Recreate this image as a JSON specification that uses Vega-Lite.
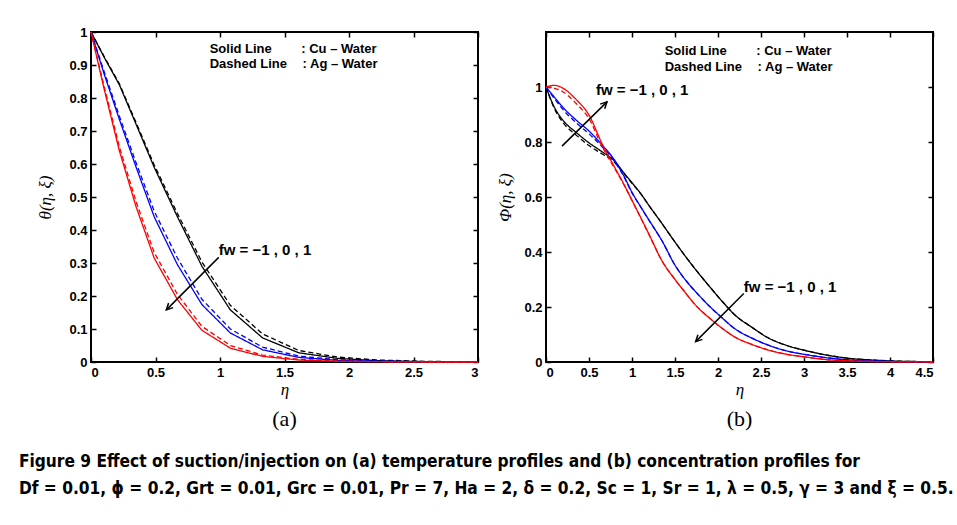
{
"$schema": "https://vega.github.io/schema/vega-lite/v6.json",
"background": "white",
"padding": {"left": 18, "top": 25, "right": 10, "bottom": 10},
"config": {
  "view": {"stroke": "#000", "strokeWidth": 2},
  "axis": {"grid": false, "domain": false, "tickColor": "#000", "tickWidth": 1.5, "tickSize": -5, "labelPadding": 9,
           "labelFont": "Liberation Sans", "labelFontWeight": "bold", "labelFontSize": 13, "labelColor": "#000",
           "titleFont": "Liberation Serif", "titleFontStyle": "italic", "titleFontWeight": "normal", "titleFontSize": 17, "titleColor": "#000", "format": "~g"}
},
"datasets": {
  "theta": [
    {"eta":0,"value":1,"fw":"-1","fluid":"Cu"},{"eta":0.1,"value":0.925,"fw":"-1","fluid":"Cu"},{"eta":0.22,"value":0.84,"fw":"-1","fluid":"Cu"},{"eta":0.35,"value":0.72,"fw":"-1","fluid":"Cu"},{"eta":0.49,"value":0.59,"fw":"-1","fluid":"Cu"},{"eta":0.67,"value":0.44,"fw":"-1","fluid":"Cu"},{"eta":0.86,"value":0.29,"fw":"-1","fluid":"Cu"},{"eta":1.08,"value":0.158,"fw":"-1","fluid":"Cu"},{"eta":1.33,"value":0.073,"fw":"-1","fluid":"Cu"},{"eta":1.61,"value":0.028,"fw":"-1","fluid":"Cu"},{"eta":1.91,"value":0.011,"fw":"-1","fluid":"Cu"},{"eta":2.22,"value":0.004,"fw":"-1","fluid":"Cu"},{"eta":2.6,"value":0.001,"fw":"-1","fluid":"Cu"},{"eta":3,"value":0,"fw":"-1","fluid":"Cu"},
    {"eta":0,"value":1,"fw":"-1","fluid":"Ag"},{"eta":0.1,"value":0.927,"fw":"-1","fluid":"Ag"},{"eta":0.22,"value":0.843,"fw":"-1","fluid":"Ag"},{"eta":0.35,"value":0.725,"fw":"-1","fluid":"Ag"},{"eta":0.49,"value":0.597,"fw":"-1","fluid":"Ag"},{"eta":0.67,"value":0.45,"fw":"-1","fluid":"Ag"},{"eta":0.86,"value":0.303,"fw":"-1","fluid":"Ag"},{"eta":1.08,"value":0.172,"fw":"-1","fluid":"Ag"},{"eta":1.33,"value":0.085,"fw":"-1","fluid":"Ag"},{"eta":1.61,"value":0.035,"fw":"-1","fluid":"Ag"},{"eta":1.91,"value":0.015,"fw":"-1","fluid":"Ag"},{"eta":2.22,"value":0.006,"fw":"-1","fluid":"Ag"},{"eta":2.6,"value":0.002,"fw":"-1","fluid":"Ag"},{"eta":3,"value":0,"fw":"-1","fluid":"Ag"},
    {"eta":0,"value":1,"fw":"0","fluid":"Cu"},{"eta":0.1,"value":0.875,"fw":"0","fluid":"Cu"},{"eta":0.22,"value":0.735,"fw":"0","fluid":"Cu"},{"eta":0.35,"value":0.59,"fw":"0","fluid":"Cu"},{"eta":0.49,"value":0.44,"fw":"0","fluid":"Cu"},{"eta":0.67,"value":0.295,"fw":"0","fluid":"Cu"},{"eta":0.86,"value":0.174,"fw":"0","fluid":"Cu"},{"eta":1.08,"value":0.088,"fw":"0","fluid":"Cu"},{"eta":1.33,"value":0.037,"fw":"0","fluid":"Cu"},{"eta":1.61,"value":0.014,"fw":"0","fluid":"Cu"},{"eta":1.91,"value":0.005,"fw":"0","fluid":"Cu"},{"eta":2.22,"value":0.002,"fw":"0","fluid":"Cu"},{"eta":2.6,"value":0.0005,"fw":"0","fluid":"Cu"},{"eta":3,"value":0,"fw":"0","fluid":"Cu"},
    {"eta":0,"value":1,"fw":"0","fluid":"Ag"},{"eta":0.1,"value":0.882,"fw":"0","fluid":"Ag"},{"eta":0.22,"value":0.745,"fw":"0","fluid":"Ag"},{"eta":0.35,"value":0.603,"fw":"0","fluid":"Ag"},{"eta":0.49,"value":0.457,"fw":"0","fluid":"Ag"},{"eta":0.67,"value":0.315,"fw":"0","fluid":"Ag"},{"eta":0.86,"value":0.19,"fw":"0","fluid":"Ag"},{"eta":1.08,"value":0.1,"fw":"0","fluid":"Ag"},{"eta":1.33,"value":0.045,"fw":"0","fluid":"Ag"},{"eta":1.61,"value":0.018,"fw":"0","fluid":"Ag"},{"eta":1.91,"value":0.007,"fw":"0","fluid":"Ag"},{"eta":2.22,"value":0.003,"fw":"0","fluid":"Ag"},{"eta":2.6,"value":0.001,"fw":"0","fluid":"Ag"},{"eta":3,"value":0,"fw":"0","fluid":"Ag"},
    {"eta":0,"value":1,"fw":"1","fluid":"Cu"},{"eta":0.1,"value":0.83,"fw":"1","fluid":"Cu"},{"eta":0.22,"value":0.64,"fw":"1","fluid":"Cu"},{"eta":0.35,"value":0.47,"fw":"1","fluid":"Cu"},{"eta":0.49,"value":0.315,"fw":"1","fluid":"Cu"},{"eta":0.67,"value":0.189,"fw":"1","fluid":"Cu"},{"eta":0.86,"value":0.096,"fw":"1","fluid":"Cu"},{"eta":1.08,"value":0.042,"fw":"1","fluid":"Cu"},{"eta":1.33,"value":0.017,"fw":"1","fluid":"Cu"},{"eta":1.61,"value":0.006,"fw":"1","fluid":"Cu"},{"eta":1.91,"value":0.002,"fw":"1","fluid":"Cu"},{"eta":2.22,"value":0.001,"fw":"1","fluid":"Cu"},{"eta":2.6,"value":0,"fw":"1","fluid":"Cu"},{"eta":3,"value":0,"fw":"1","fluid":"Cu"},
    {"eta":0,"value":1,"fw":"1","fluid":"Ag"},{"eta":0.1,"value":0.838,"fw":"1","fluid":"Ag"},{"eta":0.22,"value":0.652,"fw":"1","fluid":"Ag"},{"eta":0.35,"value":0.485,"fw":"1","fluid":"Ag"},{"eta":0.49,"value":0.332,"fw":"1","fluid":"Ag"},{"eta":0.67,"value":0.205,"fw":"1","fluid":"Ag"},{"eta":0.86,"value":0.108,"fw":"1","fluid":"Ag"},{"eta":1.08,"value":0.05,"fw":"1","fluid":"Ag"},{"eta":1.33,"value":0.021,"fw":"1","fluid":"Ag"},{"eta":1.61,"value":0.008,"fw":"1","fluid":"Ag"},{"eta":1.91,"value":0.003,"fw":"1","fluid":"Ag"},{"eta":2.22,"value":0.001,"fw":"1","fluid":"Ag"},{"eta":2.6,"value":0,"fw":"1","fluid":"Ag"},{"eta":3,"value":0,"fw":"1","fluid":"Ag"}
  ],
  "phi": [
    {"eta":0,"value":1,"fw":"-1","fluid":"Cu"},{"eta":0.1,"value":0.925,"fw":"-1","fluid":"Cu"},{"eta":0.2,"value":0.878,"fw":"-1","fluid":"Cu"},{"eta":0.35,"value":0.835,"fw":"-1","fluid":"Cu"},{"eta":0.5,"value":0.797,"fw":"-1","fluid":"Cu"},{"eta":0.65,"value":0.765,"fw":"-1","fluid":"Cu"},{"eta":0.8,"value":0.73,"fw":"-1","fluid":"Cu"},{"eta":0.9,"value":0.69,"fw":"-1","fluid":"Cu"},{"eta":1.0,"value":0.652,"fw":"-1","fluid":"Cu"},{"eta":1.1,"value":0.613,"fw":"-1","fluid":"Cu"},{"eta":1.2,"value":0.568,"fw":"-1","fluid":"Cu"},{"eta":1.35,"value":0.503,"fw":"-1","fluid":"Cu"},{"eta":1.5,"value":0.436,"fw":"-1","fluid":"Cu"},{"eta":1.6,"value":0.393,"fw":"-1","fluid":"Cu"},{"eta":1.75,"value":0.332,"fw":"-1","fluid":"Cu"},{"eta":1.9,"value":0.275,"fw":"-1","fluid":"Cu"},{"eta":2.05,"value":0.22,"fw":"-1","fluid":"Cu"},{"eta":2.2,"value":0.17,"fw":"-1","fluid":"Cu"},{"eta":2.4,"value":0.125,"fw":"-1","fluid":"Cu"},{"eta":2.57,"value":0.09,"fw":"-1","fluid":"Cu"},{"eta":2.8,"value":0.06,"fw":"-1","fluid":"Cu"},{"eta":3.0,"value":0.043,"fw":"-1","fluid":"Cu"},{"eta":3.25,"value":0.026,"fw":"-1","fluid":"Cu"},{"eta":3.5,"value":0.014,"fw":"-1","fluid":"Cu"},{"eta":3.75,"value":0.008,"fw":"-1","fluid":"Cu"},{"eta":4.0,"value":0.004,"fw":"-1","fluid":"Cu"},{"eta":4.5,"value":0.001,"fw":"-1","fluid":"Cu"},
    {"eta":0,"value":1,"fw":"-1","fluid":"Ag"},{"eta":0.1,"value":0.92,"fw":"-1","fluid":"Ag"},{"eta":0.2,"value":0.87,"fw":"-1","fluid":"Ag"},{"eta":0.35,"value":0.825,"fw":"-1","fluid":"Ag"},{"eta":0.5,"value":0.787,"fw":"-1","fluid":"Ag"},{"eta":0.65,"value":0.757,"fw":"-1","fluid":"Ag"},{"eta":0.8,"value":0.725,"fw":"-1","fluid":"Ag"},{"eta":0.9,"value":0.687,"fw":"-1","fluid":"Ag"},{"eta":1.0,"value":0.65,"fw":"-1","fluid":"Ag"},{"eta":1.1,"value":0.612,"fw":"-1","fluid":"Ag"},{"eta":1.2,"value":0.568,"fw":"-1","fluid":"Ag"},{"eta":1.35,"value":0.503,"fw":"-1","fluid":"Ag"},{"eta":1.5,"value":0.436,"fw":"-1","fluid":"Ag"},{"eta":1.6,"value":0.393,"fw":"-1","fluid":"Ag"},{"eta":1.75,"value":0.332,"fw":"-1","fluid":"Ag"},{"eta":1.9,"value":0.275,"fw":"-1","fluid":"Ag"},{"eta":2.05,"value":0.22,"fw":"-1","fluid":"Ag"},{"eta":2.2,"value":0.17,"fw":"-1","fluid":"Ag"},{"eta":2.4,"value":0.125,"fw":"-1","fluid":"Ag"},{"eta":2.57,"value":0.09,"fw":"-1","fluid":"Ag"},{"eta":2.8,"value":0.06,"fw":"-1","fluid":"Ag"},{"eta":3.0,"value":0.043,"fw":"-1","fluid":"Ag"},{"eta":3.25,"value":0.026,"fw":"-1","fluid":"Ag"},{"eta":3.5,"value":0.014,"fw":"-1","fluid":"Ag"},{"eta":3.75,"value":0.008,"fw":"-1","fluid":"Ag"},{"eta":4.0,"value":0.004,"fw":"-1","fluid":"Ag"},{"eta":4.5,"value":0.001,"fw":"-1","fluid":"Ag"},
    {"eta":0,"value":1,"fw":"0","fluid":"Cu"},{"eta":0.1,"value":0.962,"fw":"0","fluid":"Cu"},{"eta":0.2,"value":0.925,"fw":"0","fluid":"Cu"},{"eta":0.35,"value":0.88,"fw":"0","fluid":"Cu"},{"eta":0.5,"value":0.84,"fw":"0","fluid":"Cu"},{"eta":0.65,"value":0.79,"fw":"0","fluid":"Cu"},{"eta":0.8,"value":0.733,"fw":"0","fluid":"Cu"},{"eta":0.9,"value":0.68,"fw":"0","fluid":"Cu"},{"eta":1.0,"value":0.617,"fw":"0","fluid":"Cu"},{"eta":1.1,"value":0.565,"fw":"0","fluid":"Cu"},{"eta":1.2,"value":0.515,"fw":"0","fluid":"Cu"},{"eta":1.35,"value":0.44,"fw":"0","fluid":"Cu"},{"eta":1.5,"value":0.352,"fw":"0","fluid":"Cu"},{"eta":1.6,"value":0.307,"fw":"0","fluid":"Cu"},{"eta":1.75,"value":0.252,"fw":"0","fluid":"Cu"},{"eta":1.9,"value":0.203,"fw":"0","fluid":"Cu"},{"eta":2.05,"value":0.16,"fw":"0","fluid":"Cu"},{"eta":2.2,"value":0.12,"fw":"0","fluid":"Cu"},{"eta":2.4,"value":0.086,"fw":"0","fluid":"Cu"},{"eta":2.57,"value":0.063,"fw":"0","fluid":"Cu"},{"eta":2.8,"value":0.04,"fw":"0","fluid":"Cu"},{"eta":3.0,"value":0.028,"fw":"0","fluid":"Cu"},{"eta":3.25,"value":0.016,"fw":"0","fluid":"Cu"},{"eta":3.5,"value":0.008,"fw":"0","fluid":"Cu"},{"eta":3.75,"value":0.004,"fw":"0","fluid":"Cu"},{"eta":4.0,"value":0.002,"fw":"0","fluid":"Cu"},{"eta":4.5,"value":0,"fw":"0","fluid":"Cu"},
    {"eta":0,"value":1,"fw":"0","fluid":"Ag"},{"eta":0.1,"value":0.957,"fw":"0","fluid":"Ag"},{"eta":0.2,"value":0.917,"fw":"0","fluid":"Ag"},{"eta":0.35,"value":0.87,"fw":"0","fluid":"Ag"},{"eta":0.5,"value":0.83,"fw":"0","fluid":"Ag"},{"eta":0.65,"value":0.783,"fw":"0","fluid":"Ag"},{"eta":0.8,"value":0.728,"fw":"0","fluid":"Ag"},{"eta":0.9,"value":0.677,"fw":"0","fluid":"Ag"},{"eta":1.0,"value":0.615,"fw":"0","fluid":"Ag"},{"eta":1.1,"value":0.564,"fw":"0","fluid":"Ag"},{"eta":1.2,"value":0.514,"fw":"0","fluid":"Ag"},{"eta":1.35,"value":0.44,"fw":"0","fluid":"Ag"},{"eta":1.5,"value":0.352,"fw":"0","fluid":"Ag"},{"eta":1.6,"value":0.307,"fw":"0","fluid":"Ag"},{"eta":1.75,"value":0.252,"fw":"0","fluid":"Ag"},{"eta":1.9,"value":0.203,"fw":"0","fluid":"Ag"},{"eta":2.05,"value":0.16,"fw":"0","fluid":"Ag"},{"eta":2.2,"value":0.12,"fw":"0","fluid":"Ag"},{"eta":2.4,"value":0.086,"fw":"0","fluid":"Ag"},{"eta":2.57,"value":0.063,"fw":"0","fluid":"Ag"},{"eta":2.8,"value":0.04,"fw":"0","fluid":"Ag"},{"eta":3.0,"value":0.028,"fw":"0","fluid":"Ag"},{"eta":3.25,"value":0.016,"fw":"0","fluid":"Ag"},{"eta":3.5,"value":0.008,"fw":"0","fluid":"Ag"},{"eta":3.75,"value":0.004,"fw":"0","fluid":"Ag"},{"eta":4.0,"value":0.002,"fw":"0","fluid":"Ag"},{"eta":4.5,"value":0,"fw":"0","fluid":"Ag"},
    {"eta":0,"value":1,"fw":"1","fluid":"Cu"},{"eta":0.1,"value":1.006,"fw":"1","fluid":"Cu"},{"eta":0.2,"value":0.995,"fw":"1","fluid":"Cu"},{"eta":0.35,"value":0.955,"fw":"1","fluid":"Cu"},{"eta":0.5,"value":0.898,"fw":"1","fluid":"Cu"},{"eta":0.65,"value":0.795,"fw":"1","fluid":"Cu"},{"eta":0.8,"value":0.707,"fw":"1","fluid":"Cu"},{"eta":0.9,"value":0.65,"fw":"1","fluid":"Cu"},{"eta":1.0,"value":0.588,"fw":"1","fluid":"Cu"},{"eta":1.1,"value":0.526,"fw":"1","fluid":"Cu"},{"eta":1.2,"value":0.463,"fw":"1","fluid":"Cu"},{"eta":1.35,"value":0.367,"fw":"1","fluid":"Cu"},{"eta":1.5,"value":0.3,"fw":"1","fluid":"Cu"},{"eta":1.6,"value":0.26,"fw":"1","fluid":"Cu"},{"eta":1.75,"value":0.203,"fw":"1","fluid":"Cu"},{"eta":1.9,"value":0.16,"fw":"1","fluid":"Cu"},{"eta":2.05,"value":0.122,"fw":"1","fluid":"Cu"},{"eta":2.2,"value":0.09,"fw":"1","fluid":"Cu"},{"eta":2.4,"value":0.063,"fw":"1","fluid":"Cu"},{"eta":2.57,"value":0.045,"fw":"1","fluid":"Cu"},{"eta":2.8,"value":0.028,"fw":"1","fluid":"Cu"},{"eta":3.0,"value":0.019,"fw":"1","fluid":"Cu"},{"eta":3.25,"value":0.009,"fw":"1","fluid":"Cu"},{"eta":3.5,"value":0.004,"fw":"1","fluid":"Cu"},{"eta":3.75,"value":0.002,"fw":"1","fluid":"Cu"},{"eta":4.0,"value":0.001,"fw":"1","fluid":"Cu"},{"eta":4.5,"value":0,"fw":"1","fluid":"Cu"},
    {"eta":0,"value":1,"fw":"1","fluid":"Ag"},{"eta":0.1,"value":0.995,"fw":"1","fluid":"Ag"},{"eta":0.2,"value":0.982,"fw":"1","fluid":"Ag"},{"eta":0.35,"value":0.94,"fw":"1","fluid":"Ag"},{"eta":0.5,"value":0.885,"fw":"1","fluid":"Ag"},{"eta":0.65,"value":0.785,"fw":"1","fluid":"Ag"},{"eta":0.8,"value":0.703,"fw":"1","fluid":"Ag"},{"eta":0.9,"value":0.648,"fw":"1","fluid":"Ag"},{"eta":1.0,"value":0.587,"fw":"1","fluid":"Ag"},{"eta":1.1,"value":0.525,"fw":"1","fluid":"Ag"},{"eta":1.2,"value":0.462,"fw":"1","fluid":"Ag"},{"eta":1.35,"value":0.367,"fw":"1","fluid":"Ag"},{"eta":1.5,"value":0.3,"fw":"1","fluid":"Ag"},{"eta":1.6,"value":0.26,"fw":"1","fluid":"Ag"},{"eta":1.75,"value":0.203,"fw":"1","fluid":"Ag"},{"eta":1.9,"value":0.16,"fw":"1","fluid":"Ag"},{"eta":2.05,"value":0.122,"fw":"1","fluid":"Ag"},{"eta":2.2,"value":0.09,"fw":"1","fluid":"Ag"},{"eta":2.4,"value":0.063,"fw":"1","fluid":"Ag"},{"eta":2.57,"value":0.045,"fw":"1","fluid":"Ag"},{"eta":2.8,"value":0.028,"fw":"1","fluid":"Ag"},{"eta":3.0,"value":0.019,"fw":"1","fluid":"Ag"},{"eta":3.25,"value":0.009,"fw":"1","fluid":"Ag"},{"eta":3.5,"value":0.004,"fw":"1","fluid":"Ag"},{"eta":3.75,"value":0.002,"fw":"1","fluid":"Ag"},{"eta":4.0,"value":0.001,"fw":"1","fluid":"Ag"},{"eta":4.5,"value":0,"fw":"1","fluid":"Ag"}
  ],
  "notesA": [
    {"x":0.92,"y":0.95,"text":"Solid Line"},{"x":1.63,"y":0.95,"text":": Cu – Water"},
    {"x":0.92,"y":0.902,"text":"Dashed Line"},{"x":1.64,"y":0.902,"text":": Ag – Water"}
  ],
  "notesB": [
    {"x":1.38,"y":1.131,"text":"Solid Line"},{"x":2.445,"y":1.131,"text":": Cu – Water"},
    {"x":1.38,"y":1.073,"text":"Dashed Line"},{"x":2.46,"y":1.073,"text":": Ag – Water"}
  ],
  "fwA": [{"x":0.99,"y":0.339,"text":"fw = −1 , 0 , 1"}],
  "fwB": [{"x":0.58,"y":0.988,"text":"fw = −1 , 0 , 1"},{"x":2.3,"y":0.274,"text":"fw = −1 , 0 , 1"}],
  "arrowA": [{"id":"down","x1":0.99,"y1":0.317,"x2":0.584,"y2":0.158}],
  "arrowB": [{"id":"up","x1":0.186,"y1":0.785,"x2":0.709,"y2":0.946},{"id":"down","x1":2.3,"y1":0.249,"x2":1.74,"y2":0.074}]
},
"title": {
  "text": ["Figure 9  Effect of suction/injection on (a) temperature profiles and (b) concentration profiles for",
           "Df = 0.01, ϕ = 0.2, Grt = 0.01, Grc = 0.01, Pr = 7, Ha = 2, δ = 0.2, Sc = 1, Sr = 1, λ = 0.5, γ = 3 and ξ = 0.5."],
  "orient": "bottom", "anchor": "start", "font": "DejaVu Sans Condensed, Liberation Sans, sans-serif", "fontSize": 17.2, "fontWeight": "bold",
  "lineHeight": 27, "color": "#000", "offset": 22, "dx": -17
},
"spacing": 13,
"hconcat": [
 {
  "width": 387, "height": 330,
  "title": {"text": "(a)", "orient": "bottom", "font": "Liberation Serif", "fontSize": 22, "fontWeight": "normal", "fontStyle": "normal", "color": "#000", "offset": 12},
  "resolve": {"axis": {"x": "independent", "y": "independent"}},
  "layer": [
    {"data": {"name": "theta"}, "mark": {"type": "line", "strokeWidth": 1.3},
     "encoding": {
       "x": {"field": "eta", "type": "quantitative", "scale": {"domain": [0, 3], "nice": false},
             "axis": {"orient": "bottom", "values": [0, 0.5, 1, 1.5, 2, 2.5, 3], "title": "η", "titlePadding": 2}},
       "y": {"field": "value", "type": "quantitative", "scale": {"domain": [0, 1], "nice": false},
             "axis": {"orient": "left", "values": [0, 0.1, 0.2, 0.3, 0.4, 0.5, 0.6, 0.7, 0.8, 0.9, 1], "title": "θ(η, ξ)", "titlePadding": 14}},
       "color": {"field": "fw", "type": "nominal", "scale": {"domain": ["-1", "0", "1"], "range": ["#000000", "#0000ff", "#ff0000"]}, "legend": null},
       "strokeDash": {"field": "fluid", "type": "nominal", "scale": {"domain": ["Cu", "Ag"], "range": [[1, 0], [5, 3]]}, "legend": null}
     }},
    {"data": {"name": "theta"}, "mark": {"type": "point", "opacity": 0},
     "encoding": {
       "x": {"field": "eta", "type": "quantitative", "axis": {"orient": "top", "values": [0, 0.5, 1, 1.5, 2, 2.5, 3], "labels": false, "title": null}},
       "y": {"field": "value", "type": "quantitative", "axis": {"orient": "right", "values": [0, 0.1, 0.2, 0.3, 0.4, 0.5, 0.6, 0.7, 0.8, 0.9, 1], "labels": false, "title": null}}
     }},
    {"data": {"name": "notesA"}, "mark": {"type": "text", "align": "left", "baseline": "middle", "font": "Liberation Sans", "fontWeight": "bold", "fontSize": 13, "color": "#000"},
     "encoding": {
       "x": {"field": "x", "type": "quantitative", "axis": null},
       "y": {"field": "y", "type": "quantitative", "axis": null},
       "text": {"field": "text"}
     }},
    {"data": {"name": "fwA"}, "mark": {"type": "text", "align": "left", "baseline": "middle", "font": "Liberation Sans", "fontWeight": "bold", "fontSize": 15, "color": "#000"},
     "encoding": {
       "x": {"field": "x", "type": "quantitative", "axis": null},
       "y": {"field": "y", "type": "quantitative", "axis": null},
       "text": {"field": "text"}
     }},
    {"data": {"name": "arrowA"}, "mark": {"type": "rule", "color": "#000", "strokeWidth": 1.5},
     "encoding": {
       "x": {"field": "x1", "type": "quantitative", "axis": null},
       "y": {"field": "y1", "type": "quantitative", "axis": null},
       "x2": {"field": "x2"}, "y2": {"field": "y2"}
     }},
    {"data": {"name": "arrowA"}, "mark": {"type": "point", "shape": "M -0.8 1.6 L 0 0 L 0.8 1.6", "filled": false, "stroke": "#000", "strokeWidth": 1.5, "size": 64, "angle": 225, "opacity": 1},
     "encoding": {
       "x": {"field": "x2", "type": "quantitative", "axis": null},
       "y": {"field": "y2", "type": "quantitative", "axis": null}
     }}
  ]
 },
 {
  "width": 387, "height": 330,
  "title": {"text": "(b)", "orient": "bottom", "font": "Liberation Serif", "fontSize": 22, "fontWeight": "normal", "fontStyle": "normal", "color": "#000", "offset": 12},
  "resolve": {"axis": {"x": "independent", "y": "independent"}},
  "layer": [
    {"data": {"name": "phi"}, "mark": {"type": "line", "strokeWidth": 1.3, "interpolate": "monotone"},
     "encoding": {
       "x": {"field": "eta", "type": "quantitative", "scale": {"domain": [0, 4.5], "nice": false},
             "axis": {"orient": "bottom", "values": [0, 0.5, 1, 1.5, 2, 2.5, 3, 3.5, 4, 4.5], "title": "η", "titlePadding": 2}},
       "y": {"field": "value", "type": "quantitative", "scale": {"domain": [0, 1.2], "nice": false},
             "axis": {"orient": "left", "values": [0, 0.2, 0.4, 0.6, 0.8, 1], "title": "Φ(η, ξ)", "titlePadding": 9}},
       "color": {"field": "fw", "type": "nominal", "scale": {"domain": ["-1", "0", "1"], "range": ["#000000", "#0000ff", "#ff0000"]}, "legend": null},
       "strokeDash": {"field": "fluid", "type": "nominal", "scale": {"domain": ["Cu", "Ag"], "range": [[1, 0], [5, 3]]}, "legend": null}
     }},
    {"data": {"name": "phi"}, "mark": {"type": "point", "opacity": 0},
     "encoding": {
       "x": {"field": "eta", "type": "quantitative", "axis": {"orient": "top", "values": [0, 0.5, 1, 1.5, 2, 2.5, 3, 3.5, 4, 4.5], "labels": false, "title": null}},
       "y": {"field": "value", "type": "quantitative", "axis": {"orient": "right", "values": [0, 0.2, 0.4, 0.6, 0.8, 1], "labels": false, "title": null}}
     }},
    {"data": {"name": "notesB"}, "mark": {"type": "text", "align": "left", "baseline": "middle", "font": "Liberation Sans", "fontWeight": "bold", "fontSize": 13, "color": "#000"},
     "encoding": {
       "x": {"field": "x", "type": "quantitative", "axis": null},
       "y": {"field": "y", "type": "quantitative", "axis": null},
       "text": {"field": "text"}
     }},
    {"data": {"name": "fwB"}, "mark": {"type": "text", "align": "left", "baseline": "middle", "font": "Liberation Sans", "fontWeight": "bold", "fontSize": 15, "color": "#000"},
     "encoding": {
       "x": {"field": "x", "type": "quantitative", "axis": null},
       "y": {"field": "y", "type": "quantitative", "axis": null},
       "text": {"field": "text"}
     }},
    {"data": {"name": "arrowB"}, "mark": {"type": "rule", "color": "#000", "strokeWidth": 1.5},
     "encoding": {
       "x": {"field": "x1", "type": "quantitative", "axis": null},
       "y": {"field": "y1", "type": "quantitative", "axis": null},
       "x2": {"field": "x2"}, "y2": {"field": "y2"}
     }},
    {"data": {"name": "arrowB"}, "transform": [{"filter": "datum.id === 'up'"}],
     "mark": {"type": "point", "shape": "M -0.8 1.6 L 0 0 L 0.8 1.6", "filled": false, "stroke": "#000", "strokeWidth": 1.5, "size": 64, "angle": 45, "opacity": 1},
     "encoding": {
       "x": {"field": "x2", "type": "quantitative", "axis": null},
       "y": {"field": "y2", "type": "quantitative", "axis": null}
     }},
    {"data": {"name": "arrowB"}, "transform": [{"filter": "datum.id === 'down'"}],
     "mark": {"type": "point", "shape": "M -0.8 1.6 L 0 0 L 0.8 1.6", "filled": false, "stroke": "#000", "strokeWidth": 1.5, "size": 64, "angle": 225, "opacity": 1},
     "encoding": {
       "x": {"field": "x2", "type": "quantitative", "axis": null},
       "y": {"field": "y2", "type": "quantitative", "axis": null}
     }}
  ]
 }
]
}
